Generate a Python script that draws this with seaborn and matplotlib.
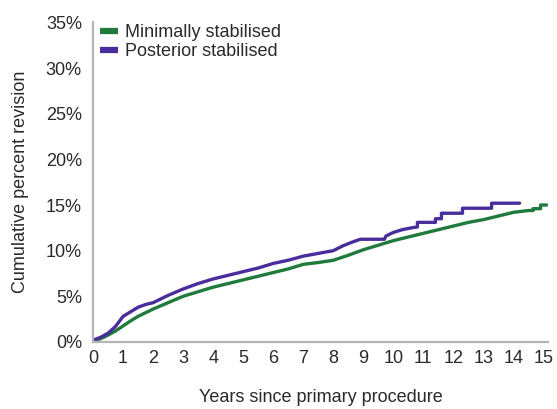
import matplotlib
matplotlib.use("Agg")
import matplotlib.pyplot as plt
import seaborn as sns
import pandas as pd

# Cumulative percent revision by years since primary procedure
minimal_years = [0, 0.25, 0.5, 0.75, 1.0, 1.25, 1.5, 1.75, 2.0, 2.5, 3.0, 3.5, 4.0, 4.5,
                 5.0, 5.5, 6.0, 6.5, 7.0, 7.5, 8.0, 8.5, 9.0, 9.5, 10.0, 10.5, 11.0, 11.5,
                 12.0, 12.5, 13.0, 13.5, 14.0, 14.5, 14.65, 14.65, 14.9, 14.9, 15.1]
minimal_pct = [0.1, 0.35, 0.75, 1.2, 1.75, 2.3, 2.8, 3.2, 3.6, 4.3, 5.0, 5.5, 6.0, 6.4,
               6.8, 7.2, 7.6, 8.0, 8.5, 8.7, 8.95, 9.5, 10.1, 10.6, 11.1, 11.5, 11.9, 12.3,
               12.7, 13.1, 13.4, 13.8, 14.2, 14.4, 14.4, 14.6, 14.6, 15.0, 15.0]

posterior_years = [0, 0.25, 0.5, 0.75, 1.0, 1.25, 1.5, 1.75, 2.0, 2.5, 3.0, 3.5, 4.0, 4.5,
                   5.0, 5.5, 6.0, 6.5, 7.0, 7.5, 8.0, 8.3, 8.6, 8.9, 9.7, 9.75, 10.0, 10.3,
                   10.6, 10.8, 10.8, 11.4, 11.4, 11.6, 11.6, 12.3, 12.3, 13.27, 13.27, 14.2]
posterior_pct = [0.2, 0.5, 0.95, 1.7, 2.8, 3.3, 3.8, 4.1, 4.3, 5.1, 5.8, 6.4, 6.9, 7.3,
                 7.7, 8.1, 8.6, 8.95, 9.4, 9.7, 10.0, 10.5, 10.9, 11.25, 11.25, 11.6, 12.0, 12.3,
                 12.5, 12.6, 13.1, 13.1, 13.5, 13.5, 14.1, 14.1, 14.65, 14.65, 15.2, 15.2]

series_names = ["Minimally stabilised", "Posterior stabilised"]
series_colors = ["#1f7a3c", "#4a2d9c"]

x_ticks = list(range(0, 16))
y_ticks = [0, 5, 10, 15, 20, 25, 30, 35]

df = pd.concat([
    pd.DataFrame({"year": minimal_years, "pct": minimal_pct, "group": series_names[0]}),
    pd.DataFrame({"year": posterior_years, "pct": posterior_pct, "group": series_names[1]}),
], ignore_index=True)

sns.set_style("white")
plt.rcParams["font.family"] = ["Liberation Sans", "DejaVu Sans"]

FS = 13
TXT = "#2a2a2a"

fig = plt.figure(figsize=(5.57, 4.09), dpi=100)
ax = fig.add_axes([0.167, 0.164, 0.817, 0.781])

sns.lineplot(data=df, x="year", y="pct", hue="group", hue_order=series_names,
             palette=series_colors, sort=False, estimator=None, linewidth=2.4, ax=ax)

ax.set_xlim(0, 15.15)
ax.set_ylim(0, 35)
ax.set_xticks(x_ticks)
ax.set_xticklabels([str(t) for t in x_ticks])
ax.set_yticks(y_ticks)
ax.set_yticklabels([f"{t}%" for t in y_ticks])

spine_color = "#b5b5b5"
for side in ["top", "right"]:
    ax.spines[side].set_visible(False)
for side in ["left", "bottom"]:
    ax.spines[side].set_color(spine_color)
    ax.spines[side].set_linewidth(1.6)

ax.tick_params(axis="both", which="major", direction="out", length=4, width=1.2,
               color=spine_color, labelsize=FS, labelcolor=TXT, pad=4)
ax.tick_params(axis="x", pad=2)

ax.set_xlabel("Years since primary procedure", fontsize=FS, color=TXT, labelpad=16)
ax.set_ylabel("Cumulative percent revision", fontsize=FS, color=TXT, labelpad=12)

leg = ax.legend(loc="upper left", bbox_to_anchor=(-0.008, 1.028), frameon=False,
                fontsize=FS, handlelength=1.0, handletextpad=0.4,
                borderaxespad=0.2, labelspacing=0.08)
for line in leg.get_lines():
    line.set_linewidth(4.5)
    line.set_solid_capstyle("butt")
for text in leg.get_texts():
    text.set_color(TXT)

fig.savefig("out.png", dpi=100)
